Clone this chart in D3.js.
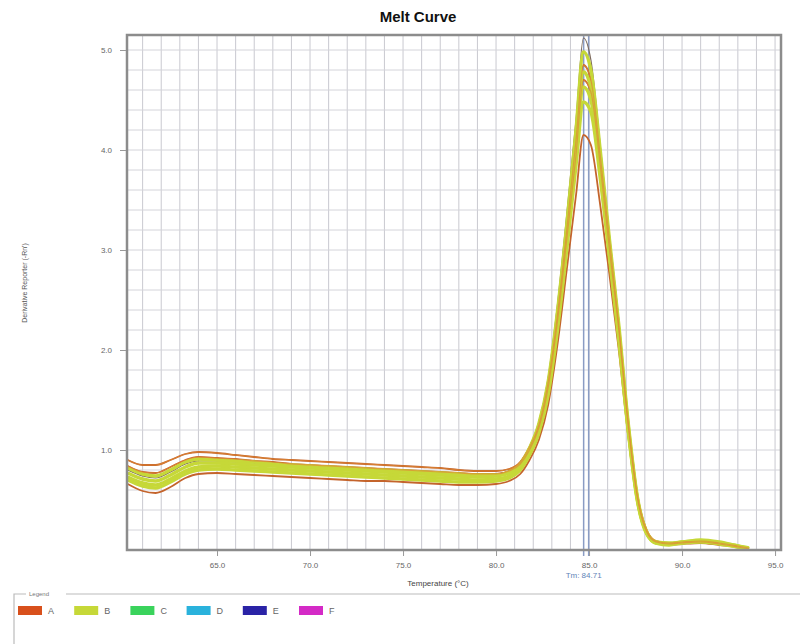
<!DOCTYPE html>
<html lang="en">
<head>
<meta charset="utf-8">
<title>Melt Curve</title>
<script src="https://d3js.org/d3.v7.min.js"></script>
<style>
  body { margin: 0; background: #fff; }
  svg { font-family: "Liberation Sans", Arial, sans-serif; }
</style>
</head>
<body>
<svg id="chart" width="808" height="644"></svg>
<script>
// temperatures (°C) shared by every well
var temps = [60.2, 61, 61.7, 62.5, 63.3, 64, 65, 66, 67, 68, 69, 70, 71, 72, 73, 74, 75, 76, 77, 78, 79, 80,
             80.7, 81.3, 81.8, 82.3, 82.8, 83.3, 83.8, 84.3, 84.7,
             85.1, 85.6, 86.1, 86.6, 87.1, 87.6, 88.1, 88.6,
             89.3, 90, 91, 92, 93, 93.6];

// derivative reporter values, group A wells
var wellA1 = [0.90, 0.85, 0.85, 0.90, 0.96, 0.98, 0.97, 0.95, 0.93, 0.91, 0.90, 0.89, 0.88, 0.87, 0.86, 0.85, 0.84, 0.83, 0.82, 0.80, 0.79, 0.79,
              0.81, 0.88, 1.03, 1.25, 1.68, 2.35, 3.2, 4.1, 4.85,
              4.7, 3.95, 3.1, 2.25, 1.3, 0.55, 0.2, 0.09,
              0.07, 0.08, 0.09, 0.07, 0.04, 0.02];
var wellA2 = [0.84, 0.78, 0.77, 0.83, 0.90, 0.93, 0.92, 0.91, 0.89, 0.88, 0.86, 0.85, 0.84, 0.83, 0.82, 0.81, 0.80, 0.79, 0.78, 0.77, 0.76, 0.76,
              0.79, 0.86, 1.0, 1.22, 1.62, 2.28, 3.1, 3.95, 4.7,
              4.58, 3.85, 3.0, 2.2, 1.25, 0.52, 0.18, 0.08,
              0.06, 0.07, 0.08, 0.06, 0.03, 0.01];
var wellA3 = [0.66, 0.59, 0.57, 0.63, 0.72, 0.76, 0.77, 0.76, 0.75, 0.74, 0.73, 0.72, 0.71, 0.70, 0.69, 0.69, 0.68, 0.67, 0.66, 0.65, 0.65, 0.66,
              0.69, 0.76, 0.9, 1.1, 1.45, 2.05, 2.8, 3.55, 4.15,
              4.05, 3.45, 2.75, 2.0, 1.15, 0.48, 0.16, 0.07,
              0.05, 0.06, 0.07, 0.05, 0.03, 0.01];
var wellA4 = [0.80, 0.74, 0.72, 0.78, 0.86, 0.89, 0.89, 0.88, 0.87, 0.86, 0.85, 0.84, 0.83, 0.82, 0.81, 0.80, 0.79, 0.78, 0.77, 0.76, 0.75, 0.76,
              0.79, 0.87, 1.03, 1.28, 1.72, 2.45, 3.35, 4.3, 5.12,
              4.9, 4.05, 3.15, 2.3, 1.3, 0.54, 0.19, 0.08,
              0.06, 0.07, 0.08, 0.06, 0.03, 0.01];

// group B wells
var wellB1 = [0.82, 0.76, 0.74, 0.80, 0.88, 0.91, 0.90, 0.89, 0.88, 0.86, 0.85, 0.84, 0.83, 0.82, 0.81, 0.80, 0.79, 0.78, 0.77, 0.76, 0.75, 0.75,
              0.78, 0.86, 1.02, 1.26, 1.68, 2.38, 3.25, 4.2, 4.98,
              4.8, 4.0, 3.1, 2.25, 1.28, 0.53, 0.18, 0.08,
              0.07, 0.08, 0.10, 0.08, 0.04, 0.02];
var wellB2 = [0.77, 0.71, 0.69, 0.75, 0.83, 0.87, 0.87, 0.86, 0.85, 0.84, 0.83, 0.82, 0.81, 0.80, 0.79, 0.78, 0.77, 0.76, 0.75, 0.74, 0.73, 0.74,
              0.77, 0.85, 1.0, 1.23, 1.64, 2.3, 3.15, 4.05, 4.78,
              4.62, 3.88, 3.02, 2.2, 1.25, 0.51, 0.17, 0.08,
              0.06, 0.08, 0.09, 0.07, 0.04, 0.01];
var wellB3 = [0.73, 0.67, 0.65, 0.71, 0.79, 0.83, 0.84, 0.83, 0.82, 0.81, 0.80, 0.79, 0.78, 0.77, 0.76, 0.75, 0.74, 0.73, 0.72, 0.71, 0.70, 0.71,
              0.74, 0.82, 0.97, 1.2, 1.6, 2.25, 3.08, 3.95, 4.63,
              4.5, 3.8, 2.97, 2.15, 1.22, 0.5, 0.17, 0.07,
              0.06, 0.07, 0.09, 0.07, 0.03, 0.01];
var wellB4 = [0.70, 0.64, 0.62, 0.68, 0.76, 0.80, 0.81, 0.80, 0.79, 0.78, 0.77, 0.76, 0.75, 0.74, 0.73, 0.72, 0.71, 0.70, 0.69, 0.68, 0.68, 0.69,
              0.72, 0.80, 0.95, 1.17, 1.55, 2.2, 3.0, 3.85, 4.48,
              4.38, 3.72, 2.92, 2.1, 1.2, 0.49, 0.16, 0.07,
              0.05, 0.07, 0.08, 0.06, 0.03, 0.01];

var xTicks = [65, 70, 75, 80, 85, 90, 95];
var yTicks = [1, 2, 3, 4, 5];
var tmLines = [84.71, 84.98];
var tmLabel = "Tm: 84.71";

var legendNames = ["A", "B", "C", "D", "E", "F"];
var legendColors = ["#d8501c", "#c6d838", "#3ad35c", "#2ab2dc", "#2a23a6", "#d42ac6"];

var svg = d3.select("#chart");
var x = d3.scaleLinear().domain([60.16, 95.32]).range([127, 781]);
var y = d3.scaleLinear().domain([0, 5.15]).range([550, 35]);

// title
svg.append("text")
    .attr("x", 418).attr("y", 22)
    .attr("text-anchor", "middle")
    .attr("font-size", "15px").attr("font-weight", "bold")
    .attr("fill", "#111")
    .text("Melt Curve");

// grid
var grid = svg.append("g");
grid.selectAll(".vg").data(d3.range(61, 96, 1)).enter().append("line")
    .attr("x1", function (d) { return x(d); }).attr("x2", function (d) { return x(d); })
    .attr("y1", 35).attr("y2", 550)
    .attr("stroke", "#c9c9d0").attr("stroke-width", 1);
grid.selectAll(".hg").data(d3.range(0.2, 5.15, 0.2)).enter().append("line")
    .attr("x1", 127).attr("x2", 781)
    .attr("y1", function (d) { return y(d); }).attr("y2", function (d) { return y(d); })
    .attr("stroke", "#d4d4da").attr("stroke-width", 1);

// Tm lines
svg.selectAll(".tm").data(tmLines).enter().append("line")
    .attr("x1", function (d) { return x(d); }).attr("x2", function (d) { return x(d); })
    .attr("y1", 35).attr("y2", 556)
    .attr("stroke", "#8a9cc4").attr("stroke-width", 1.5);

// curves
var line = d3.line()
    .x(function (d) { return x(d[0]); })
    .y(function (d) { return y(d[1]); })
    .curve(d3.curveMonotoneX);
function pairs(vals) { return temps.map(function (t, i) { return [t, vals[i]]; }); }

var groupA = [wellA1, wellA2, wellA3];
var groupB = [wellB1, wellB2, wellB3, wellB4];

svg.append("path")
    .attr("d", line(pairs(wellA4)))
    .attr("fill", "none").attr("stroke", "#7d6a5c").attr("stroke-width", 1.2);
svg.append("g").selectAll("path").data(groupA).enter().append("path")
    .attr("d", function (d) { return line(pairs(d)); })
    .attr("fill", "none").attr("stroke", "#c4642c").attr("stroke-width", 1.8);
svg.append("g").selectAll("path").data(groupB).enter().append("path")
    .attr("d", function (d) { return line(pairs(d)); })
    .attr("fill", "none").attr("stroke", legendColors[1]).attr("stroke-width", 3.4);
svg.append("g").selectAll("path").data([wellA1, wellA2]).enter().append("path")
    .attr("d", function (d) { return line(pairs(d)); })
    .attr("fill", "none").attr("stroke", "#e08a34").attr("stroke-width", 1.2).attr("opacity", 0.7);

// plot border
svg.append("rect")
    .attr("x", 127).attr("y", 35).attr("width", 654).attr("height", 515)
    .attr("fill", "none").attr("stroke", "#8c8c8c").attr("stroke-width", 2.5);

// axes
var xAxis = svg.append("g")
    .attr("transform", "translate(0,551)")
    .call(d3.axisBottom(x).tickValues(xTicks).tickFormat(d3.format(".1f")).tickSize(5).tickPadding(6));
var yAxis = svg.append("g")
    .attr("transform", "translate(126,0)")
    .call(d3.axisLeft(y).tickValues(yTicks).tickFormat(d3.format(".1f")).tickSize(6).tickPadding(8));
[xAxis, yAxis].forEach(function (a) {
    a.select(".domain").remove();
    a.selectAll("line").attr("stroke", "#999");
    a.selectAll("text").attr("fill", "#666").attr("font-size", "8px");
});

svg.append("text")
    .attr("x", x(84.71)).attr("y", 578)
    .attr("text-anchor", "middle")
    .attr("font-size", "8px").attr("fill", "#5f84b8")
    .text(tmLabel);

svg.append("text")
    .attr("x", 438).attr("y", 586)
    .attr("text-anchor", "middle")
    .attr("font-size", "8px").attr("fill", "#444")
    .text("Temperature (°C)");

svg.append("text")
    .attr("transform", "translate(27,283) rotate(-90)")
    .attr("text-anchor", "middle")
    .attr("font-size", "7px").attr("fill", "#555")
    .text("Derivative Reporter (-Rn')");

// legend group box
var lg = svg.append("g");
lg.append("path")
    .attr("d", "M14,644 L14,594 L26,594 M66,594 L800,594")
    .attr("fill", "none").attr("stroke", "#bbb").attr("stroke-width", 1.2);
lg.append("text")
    .attr("x", 29).attr("y", 596)
    .attr("font-size", "6px").attr("fill", "#777")
    .text("Legend");
var item = lg.selectAll(".item").data(legendNames).enter().append("g")
    .attr("transform", function (d, i) { return "translate(" + (18 + i * 56.2) + ",606)"; });
item.append("rect")
    .attr("width", 24).attr("height", 9)
    .attr("fill", function (d, i) { return legendColors[i]; });
item.append("text")
    .attr("x", 30).attr("y", 8)
    .attr("font-size", "9px").attr("fill", "#666")
    .text(function (d) { return d; });
</script>
</body>
</html>
